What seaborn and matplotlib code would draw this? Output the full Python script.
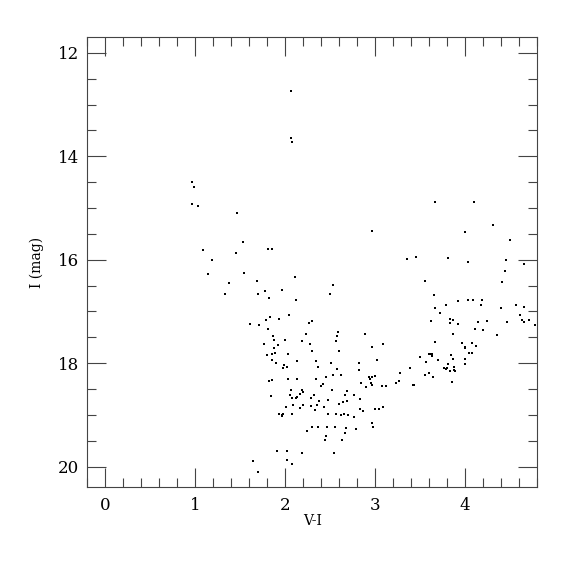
"""Colour-magnitude diagram: I vs V-I."""

import matplotlib.pyplot as plt
from matplotlib.ticker import MultipleLocator
import pandas as pd
import seaborn as sns

# Bright / isolated stars
vi_top = [2.06, 2.06, 2.08, 0.96, 0.98, 0.96, 1.03, 1.46, 1.53, 1.09, 1.45, 1.81, 1.85, 1.19,
          3.66, 4.10, 4.31, 2.97, 4.00, 4.50, 3.35, 3.45, 3.81, 4.03, 4.45]
i_top = [12.74, 13.64, 13.73, 14.50, 14.60, 14.93, 14.97, 15.09, 15.66, 15.82, 15.87, 15.80, 15.80, 16.00,
         14.88, 14.88, 15.32, 15.44, 15.47, 15.62, 15.98, 15.95, 15.96, 16.04, 16.00]

# Blue side (V-I < 2.3)
vi_blue = [1.14, 1.54, 2.11, 1.37, 1.69, 1.33, 1.70, 1.78, 1.96, 1.82,
           2.12, 1.61, 1.71, 1.81, 1.79, 1.83, 1.93, 2.04, 2.26, 2.30,
           2.23, 2.30, 1.86, 1.87, 2.00, 1.76, 1.92, 2.19, 2.27, 1.88,
           1.80, 1.85, 1.89, 2.03, 1.85, 1.90, 1.99, 1.98, 2.02, 2.13,
           1.82, 1.85, 2.03, 2.13, 1.84, 2.06, 2.19, 2.20, 2.05, 2.07,
           2.12, 2.13, 2.16, 2.29, 2.01, 2.09, 2.16, 2.20, 2.29, 1.93,
           1.96, 1.97, 1.96, 2.08, 2.30, 2.24, 1.91, 2.02, 2.19, 1.64,
           2.02, 2.08, 1.70]
i_blue = [16.28, 16.26, 16.33, 16.44, 16.42, 16.66, 16.67, 16.60, 16.58, 16.74,
          16.78, 17.25, 17.26, 17.33, 17.16, 17.10, 17.15, 17.07, 17.22, 17.18,
          17.43, 17.76, 17.47, 17.55, 17.55, 17.62, 17.65, 17.58, 17.63, 17.71,
          17.84, 17.82, 17.80, 17.83, 17.94, 17.99, 18.03, 18.09, 18.07, 17.96,
          18.34, 18.32, 18.31, 18.31, 18.63, 18.51, 18.52, 18.55, 18.62, 18.67,
          18.67, 18.65, 18.60, 18.67, 18.85, 18.81, 18.86, 18.81, 18.83, 18.98,
          19.01, 18.98, 19.03, 18.98, 19.24, 19.31, 19.70, 19.70, 19.74, 19.89,
          19.87, 19.95, 20.11]

# Middle (2.3 < V-I < 3.2)
vi_mid = [2.53, 2.50, 3.09, 3.02, 2.96, 2.89, 2.82, 2.82, 2.93, 2.94,
          2.95, 2.97, 3.00, 2.84, 2.90, 2.96, 3.08, 3.12, 3.09, 3.04,
          3.00, 2.83, 2.83, 2.87, 2.77, 2.69, 2.66, 2.69, 2.64, 2.60,
          2.70, 2.65, 2.62, 2.77, 2.96, 2.98, 2.79, 2.68, 2.67, 2.63,
          2.55, 2.46, 2.36, 2.45, 2.44, 2.54, 2.34, 2.36, 2.34, 2.32,
          2.35, 2.37, 2.33, 2.43, 2.48, 2.48, 2.52, 2.40, 2.42, 2.45,
          2.51, 2.53, 2.58, 2.62, 2.56, 2.57, 2.59, 2.60, 2.56]
i_mid = [16.49, 16.66, 17.63, 17.93, 17.69, 17.44, 17.99, 18.13, 18.26, 18.31,
         18.38, 18.27, 18.25, 18.39, 18.47, 18.42, 18.45, 18.45, 18.85, 18.88,
         18.89, 18.69, 18.89, 18.92, 18.61, 18.54, 18.62, 18.73, 18.75, 18.78,
         19.01, 18.98, 19.00, 19.04, 19.16, 19.24, 19.27, 19.25, 19.35, 19.49,
         19.23, 19.23, 19.23, 19.40, 19.49, 19.74, 17.96, 18.08, 18.31, 18.61,
         18.80, 18.73, 18.91, 18.85, 18.71, 18.99, 18.52, 18.45, 18.41, 18.27,
         18.00, 18.23, 18.12, 18.23, 17.57, 17.47, 17.40, 17.76, 18.98]

# Red side (V-I > 3.2)
vi_red = [4.44, 4.66, 3.55, 4.41, 3.65, 3.66, 3.72, 3.79, 3.92, 4.03,
          4.09, 4.19, 4.18, 4.40, 4.57, 4.65, 4.61, 4.63, 4.65, 4.71,
          4.78, 4.47, 4.36, 4.24, 4.14, 4.20, 4.11, 4.12, 4.08, 4.04,
          4.08, 4.00, 4.00, 3.96, 4.00, 4.00, 3.92, 3.87, 3.83, 3.83,
          3.87, 3.62, 3.66, 3.60, 3.62, 3.63, 3.63, 3.70, 3.84, 3.87,
          3.81, 3.77, 3.79, 3.80, 3.83, 3.88, 3.88, 3.89, 3.85, 3.50,
          3.56, 3.55, 3.60, 3.64, 3.39, 3.42, 3.43, 3.28, 3.27, 3.23]
i_red = [16.22, 16.09, 16.41, 16.43, 16.69, 16.94, 17.02, 16.87, 16.80, 16.78,
         16.77, 16.78, 16.88, 16.94, 16.87, 16.91, 17.07, 17.16, 17.20, 17.16,
         17.27, 17.21, 17.45, 17.19, 17.20, 17.36, 17.33, 17.67, 17.61, 17.81,
         17.81, 17.69, 17.71, 17.61, 17.92, 18.02, 17.25, 17.16, 17.14, 17.23,
         17.44, 17.18, 17.59, 17.82, 17.82, 17.87, 17.82, 17.93, 17.84, 17.91,
         18.02, 18.10, 18.12, 18.10, 18.15, 18.07, 18.14, 18.16, 18.36, 17.88,
         17.98, 18.23, 18.18, 18.27, 18.10, 18.42, 18.43, 18.18, 18.34, 18.39]

df = pd.DataFrame({
    "vi": vi_top + vi_blue + vi_mid + vi_red,
    "imag": i_top + i_blue + i_mid + i_red,
})

sns.set_theme(style="ticks")
plt.rcParams["font.family"] = ["DejaVu Serif"]
plt.rcParams["text.color"] = "black"
plt.rcParams["axes.labelcolor"] = "black"

fig = plt.figure(figsize=(5.75, 5.75), dpi=100)
ax = fig.add_axes([0.152, 0.1525, 0.782, 0.7825])

sns.scatterplot(data=df, x="vi", y="imag", ax=ax, color="black",
                marker="s", s=3, linewidth=0)

ax.set_xlim(-0.2, 4.8)
ax.set_ylim(20.4, 11.7)
ax.xaxis.set_major_locator(MultipleLocator(1))
ax.xaxis.set_minor_locator(MultipleLocator(0.2))
ax.yaxis.set_major_locator(MultipleLocator(2))
ax.yaxis.set_minor_locator(MultipleLocator(0.5))

edge = "#444444"
for sp in ax.spines.values():
    sp.set_visible(True)
    sp.set_color(edge)
    sp.set_linewidth(0.8)
ax.tick_params(which="both", direction="in", top=True, right=True,
               color=edge, width=0.8, labelsize=12, labelcolor="black")
ax.tick_params(which="major", length=13.5)
ax.tick_params(which="minor", length=6.7)
ax.tick_params(axis="x", which="major", pad=7)
ax.tick_params(axis="y", which="major", pad=6)

ax.set_xlabel("V-I", fontsize=10, labelpad=0)
ax.set_ylabel("I (mag)", fontsize=10, labelpad=10)

fig.savefig("out.png", dpi=100)
